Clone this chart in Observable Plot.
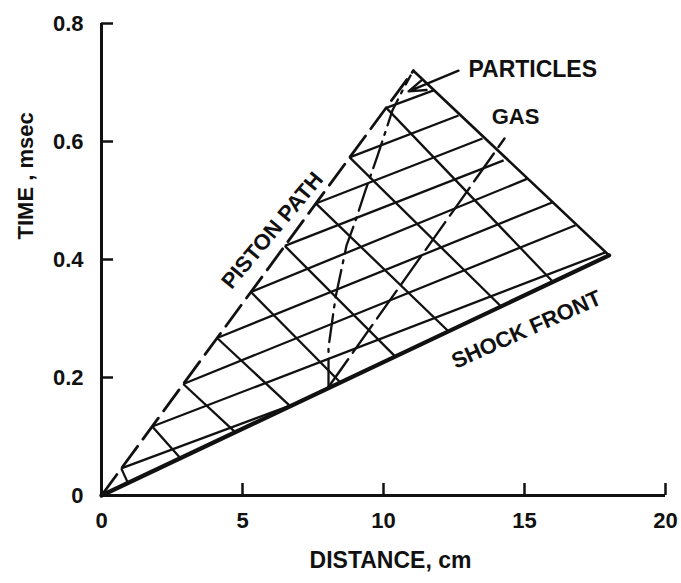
<!DOCTYPE html>
<html><head><meta charset="utf-8">
<script src="https://cdn.jsdelivr.net/npm/d3@7"></script>
<script src="https://cdn.jsdelivr.net/npm/@observablehq/plot@0.6"></script>
<style>body{margin:0;background:#fff}</style>
</head><body><div id="chart"></div>
<script>
const xTicks = [0, 5, 10, 15, 20];
const yTicks = [0, 0.2, 0.4, 0.6, 0.8];
const yTickLabels = ["0", "0.2", "0.4", "0.6", "0.8"];

// piston path (dashed) from origin to apex
const pistonPathX = [0, 11.06];
const pistonPathT = [0, 0.72];
// shock front
const shockX = [0, 18.0];
const shockT = [0, 0.407];
// right edge, apex to end of shock
const edgeX = [11.06, 18.0];
const edgeT = [0.72, 0.407];
// nodes on the piston path where the wave lines start
const nodeX = [0.7, 1.8, 2.9, 4.1, 5.3, 6.5, 7.6, 8.8, 10.1];
const nodeT = [0.046, 0.117, 0.189, 0.267, 0.345, 0.423, 0.495, 0.573, 0.657];
// forward wave lines: end points
const fwdEndX = [7.0, 17.87, 16.81, 16.0, 15.11, 14.26, 13.51, 12.66, 11.8];
const fwdEndT = [0.158, 0.412, 0.458, 0.497, 0.537, 0.568, 0.605, 0.644, 0.687];
// backward wave lines: end points on the shock front
const backEndX = [0.94, 2.80, 4.75, 6.70, 8.48, 10.43, 12.31, 14.18, 16.03];
const backEndT = [0.021, 0.063, 0.107, 0.151, 0.191, 0.235, 0.278, 0.320, 0.361];
// particles path (dash-dot)
const particleX = [8.05, 8.05, 8.30, 8.69, 9.01, 9.36, 9.79, 10.32, 10.67, 10.96];
const particleT = [0.184, 0.251, 0.336, 0.424, 0.466, 0.517, 0.576, 0.653, 0.686, 0.712];
// gas path (dashed)
const gasX = [8.05, 14.29];
const gasT = [0.184, 0.605];
// in-plot labels
const labelText = ["PISTON PATH", "SHOCK FRONT", "GAS"];
const labelX = [6.06, 15.07, 14.68];
const labelT = [0.449, 0.281, 0.641];
const labelRotate = [-50, -24, 0];
const particlesLabelX = 13.01, particlesLabelT = 0.722;
const arrowFromX = 12.66, arrowFromT = 0.720, arrowToX = 10.89, arrowToT = 0.685;

const ink = "#111";
const pts = (xs, ts) => xs.map((x, i) => ({x, t: ts[i]}));
const fwd = nodeX.map((x, i) => ({x1: x, y1: nodeT[i], x2: fwdEndX[i], y2: fwdEndT[i]}));
const back = nodeX.map((x, i) => ({x1: x, y1: nodeT[i], x2: backEndX[i], y2: backEndT[i]}));
const labels = labelText.map((s, i) => ({s, x: labelX[i], t: labelT[i], r: labelRotate[i]}));

const chart = Plot.plot({
  width: 681, height: 583,
  marginLeft: 101, marginRight: 16, marginTop: 23, marginBottom: 88,
  x: {domain: [0, 20]},
  y: {domain: [0, 0.8]},
  style: {fontFamily: "'Liberation Sans', Arial, sans-serif", fontWeight: "bold", fontSize: "22px", color: ink, background: "#fff"},
  marks: [
    Plot.link(fwd, {x1: "x1", y1: "y1", x2: "x2", y2: "y2", stroke: ink, strokeWidth: 2.3}),
    Plot.link(back, {x1: "x1", y1: "y1", x2: "x2", y2: "y2", stroke: ink, strokeWidth: 2.3}),
    Plot.line(pts(edgeX, edgeT), {x: "x", y: "t", stroke: ink, strokeWidth: 2.6}),
    Plot.line(pts(pistonPathX, pistonPathT), {x: "x", y: "t", stroke: ink, strokeWidth: 2.8, strokeDasharray: "26,9"}),
    Plot.line(pts(shockX, shockT), {x: "x", y: "t", stroke: ink, strokeWidth: 4.2}),
    Plot.line(pts(particleX, particleT), {x: "x", y: "t", stroke: ink, strokeWidth: 2.3, strokeDasharray: "28,7,3,7"}),
    Plot.line(pts(gasX, gasT), {x: "x", y: "t", stroke: ink, strokeWidth: 2.4, strokeDasharray: "34,8"}),
    Plot.arrow([{x1: arrowFromX, y1: arrowFromT, x2: arrowToX, y2: arrowToT}], {x1: "x1", y1: "y1", x2: "x2", y2: "y2", stroke: ink, strokeWidth: 2.4, headLength: 14, headAngle: 36}),
    Plot.text(labels, {x: "x", y: "t", text: "s", rotate: "r", fontSize: 22, fontWeight: "bold", fill: ink}),
    Plot.text([{s: "PARTICLES"}], {x: () => particlesLabelX, y: () => particlesLabelT, text: "s", textAnchor: "start", fontSize: 23, fontWeight: "bold", fill: ink}),
    Plot.ruleX([0], {stroke: ink, strokeWidth: 3}),
    Plot.ruleY([0], {stroke: ink, strokeWidth: 3}),
    Plot.axisX({ticks: xTicks, tickSize: -12, tickPadding: 29, strokeWidth: 2.5, label: null, fontSize: 22}),
    Plot.axisY({ticks: yTicks, tickSize: -12, tickPadding: 30, strokeWidth: 2.5, label: null, fontSize: 22, tickFormat: d => yTickLabels[yTicks.indexOf(d)]}),
    Plot.text(["DISTANCE, cm"], {text: d => d, frameAnchor: "bottom", dy: 72, dx: 7, fontSize: 23, fontWeight: "bold", fill: ink}),
    Plot.text(["TIME , msec"], {text: d => d, frameAnchor: "left", rotate: -90, dx: -76, dy: -20, fontSize: 22, fontWeight: "bold", fill: ink})
  ]
});
document.getElementById("chart").appendChild(chart);
</script>
</body></html>
